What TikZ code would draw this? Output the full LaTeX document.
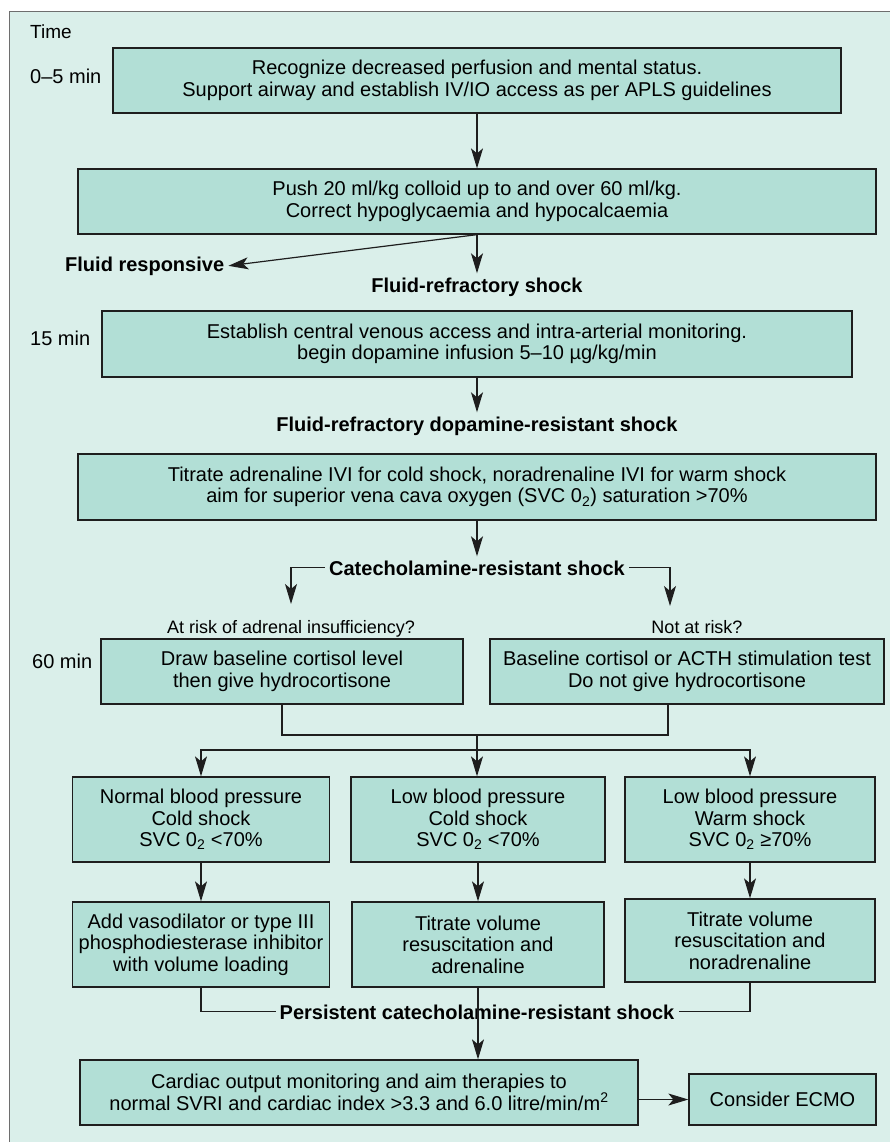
\documentclass[tikz,border=0pt]{standalone}
\usepackage{fontspec}
\setmainfont{Liberation Sans}
\usetikzlibrary{arrows.meta}
\definecolor{bgc}{RGB}{218,239,234}
\definecolor{boxc}{RGB}{178,223,214}
\definecolor{linec}{RGB}{30,30,30}
\definecolor{framec}{RGB}{110,110,110}
\begin{document}
\begin{tikzpicture}[x=1pt,y=-1pt,
  box/.style={draw=linec, fill=boxc, line width=1.3pt, align=center, inner sep=2pt,
              font=\fontsize{20}{21.5}\selectfont, text=black},
  lbl/.style={font=\bfseries\fontsize{20}{22}\selectfont, inner sep=4pt, text=black},
  note/.style={font=\fontsize{18}{20}\selectfont, inner sep=3pt, text=black},
  tlbl/.style={font=\fontsize{20}{22}\selectfont, inner sep=0pt, anchor=base west, text=black},
  conn/.style={draw=linec, line width=1.2pt},
  arr/.style={conn, -{Stealth[length=20pt,width=12pt,inset=5pt]}},
]
\useasboundingbox (0,0) rectangle (890,1142);
\fill[bgc] (9,12) rectangle (890,1142);
\draw[framec, line width=1pt] (9,1142) -- (9,12) -- (890,12);

% time labels
\node[tlbl, font=\fontsize{19}{21}\selectfont] (t0) at (30,39) {Time};
\node[tlbl] (t1) at (30,84) {0–5 min};
\node[tlbl] (t2) at (30,345) {15 min};
\node[tlbl] (t3) at (32,668) {60 min};

% main boxes
\node[box, minimum width=728pt, minimum height=65pt] (b1) at (477,80.5)
  {Recognize decreased perfusion and mental status.\\Support airway and establish IV/IO access as per APLS guidelines};
\node[box, minimum width=798pt, minimum height=65pt] (b2) at (477,201.5)
  {Push 20 ml/kg colloid up to and over 60 ml/kg.\\Correct hypoglycaemia and hypocalcaemia};
\node[box, minimum width=750pt, minimum height=66pt] (b3) at (477,344)
  {Establish central venous access and intra-arterial monitoring.\\begin dopamine infusion 5–10 µg/kg/min};
\node[box, minimum width=798pt, minimum height=66pt] (b4) at (477,487)
  {Titrate adrenaline IVI for cold shock, noradrenaline IVI for warm shock\\aim for superior vena cava oxygen (SVC 0\textsubscript{2}) saturation >70\%};

% labels
\node[lbl, anchor=base west] (fresp) at (61,271) {Fluid responsive};
\node[lbl, anchor=base] (frs) at (477,292) {Fluid-refractory shock};
\node[lbl, anchor=base] (dop) at (477,431) {Fluid-refractory dopamine-resistant shock};
\node[lbl, anchor=base] (cat) at (477,575) {Catecholamine-resistant shock};
\node[note, anchor=base] (ra) at (291,633) {At risk of adrenal insufficiency?};
\node[note, anchor=base] (nr) at (697,633) {Not at risk?};

% 60 min boxes
\node[box, minimum width=362pt, minimum height=65pt] (b5a) at (282,671.5)
  {Draw baseline cortisol level\\then give hydrocortisone};
\node[box, minimum width=394pt, minimum height=65pt] (b5b) at (687,671.5)
  {Baseline cortisol or ACTH stimulation test\\Do not give hydrocortisone};

% third row
\node[box, minimum width=257pt, minimum height=85pt] (b6a) at (201,819.5)
  {Normal blood pressure\\Cold shock\\SVC 0\textsubscript{2} <70\%};
\node[box, minimum width=254pt, minimum height=85pt] (b6b) at (478,819.5)
  {Low blood pressure\\Cold shock\\SVC 0\textsubscript{2} <70\%};
\node[box, minimum width=250pt, minimum height=85pt] (b6c) at (750,819.5)
  {Low blood pressure\\Warm shock\\SVC 0\textsubscript{2} ≥70\%};

\node[box, minimum width=257pt, minimum height=85pt] (b7a) at (201,944.5)
  {Add vasodilator or type III\\phosphodiesterase inhibitor\\with volume loading};
\node[box, minimum width=252pt, minimum height=85pt] (b7b) at (478,944.5)
  {Titrate volume\\resuscitation and\\adrenaline};
\node[box, minimum width=250pt, minimum height=83pt] (b7c) at (750,940.5)
  {Titrate volume\\resuscitation and\\noradrenaline};

\node[lbl, anchor=base] (pers) at (477,1019) {Persistent catecholamine-resistant shock};

\node[box, minimum width=558pt, minimum height=65pt] (b8) at (359,1092.5)
  {Cardiac output monitoring and aim therapies to\\normal SVRI and cardiac index >3.3 and 6.0 litre/min/m\textsuperscript{2}};
\node[box, minimum width=187pt, minimum height=51pt] (ecmo) at (782.5,1099.5) {Consider ECMO};

% connectors
\draw[arr] (b1.south) -- (b2.north);
\draw[arr] (b2.south) -- (fresp.east);
\draw[arr] (b2.south) -- (frs.north);
\draw[arr] (b3.south) -- (dop.north);
\draw[arr] (b4.south) -- (cat.north);
\coordinate (ta) at (291,604);
\coordinate (tb) at (670,606);
\draw[arr] (cat.west) -| (ta);
\draw[arr] (cat.east) -| (tb);

\coordinate (m1) at (477,735);
\coordinate (m2) at (477,750);
\coordinate (b5bout) at (668,704);
\draw[conn] (b5a.south) |- (m1);
\draw[conn] (b5bout) |- (m1);
\draw[conn] (m1) -- (m2);
\draw[arr] (m2) -| (b6a.north);
\draw[arr] (m2) -| (b6c.north);
\draw[arr] (m2) -- (m2 |- b6b.north);

\draw[arr] (b6a.south) -- (b7a.north);
\draw[arr] (b6b.south) -- (b7b.north);
\draw[arr] (b6c.south) -- (b7c.north);

\draw[conn] (b7a.south) |- (pers.west);
\draw[conn] (b7c.south) |- (pers.east);
\draw[arr] (b7b.south) -- (b7b.south |- b8.north);
\draw[arr] (b8.east |- ecmo.west) -- (ecmo.west);
\end{tikzpicture}
\end{document}
